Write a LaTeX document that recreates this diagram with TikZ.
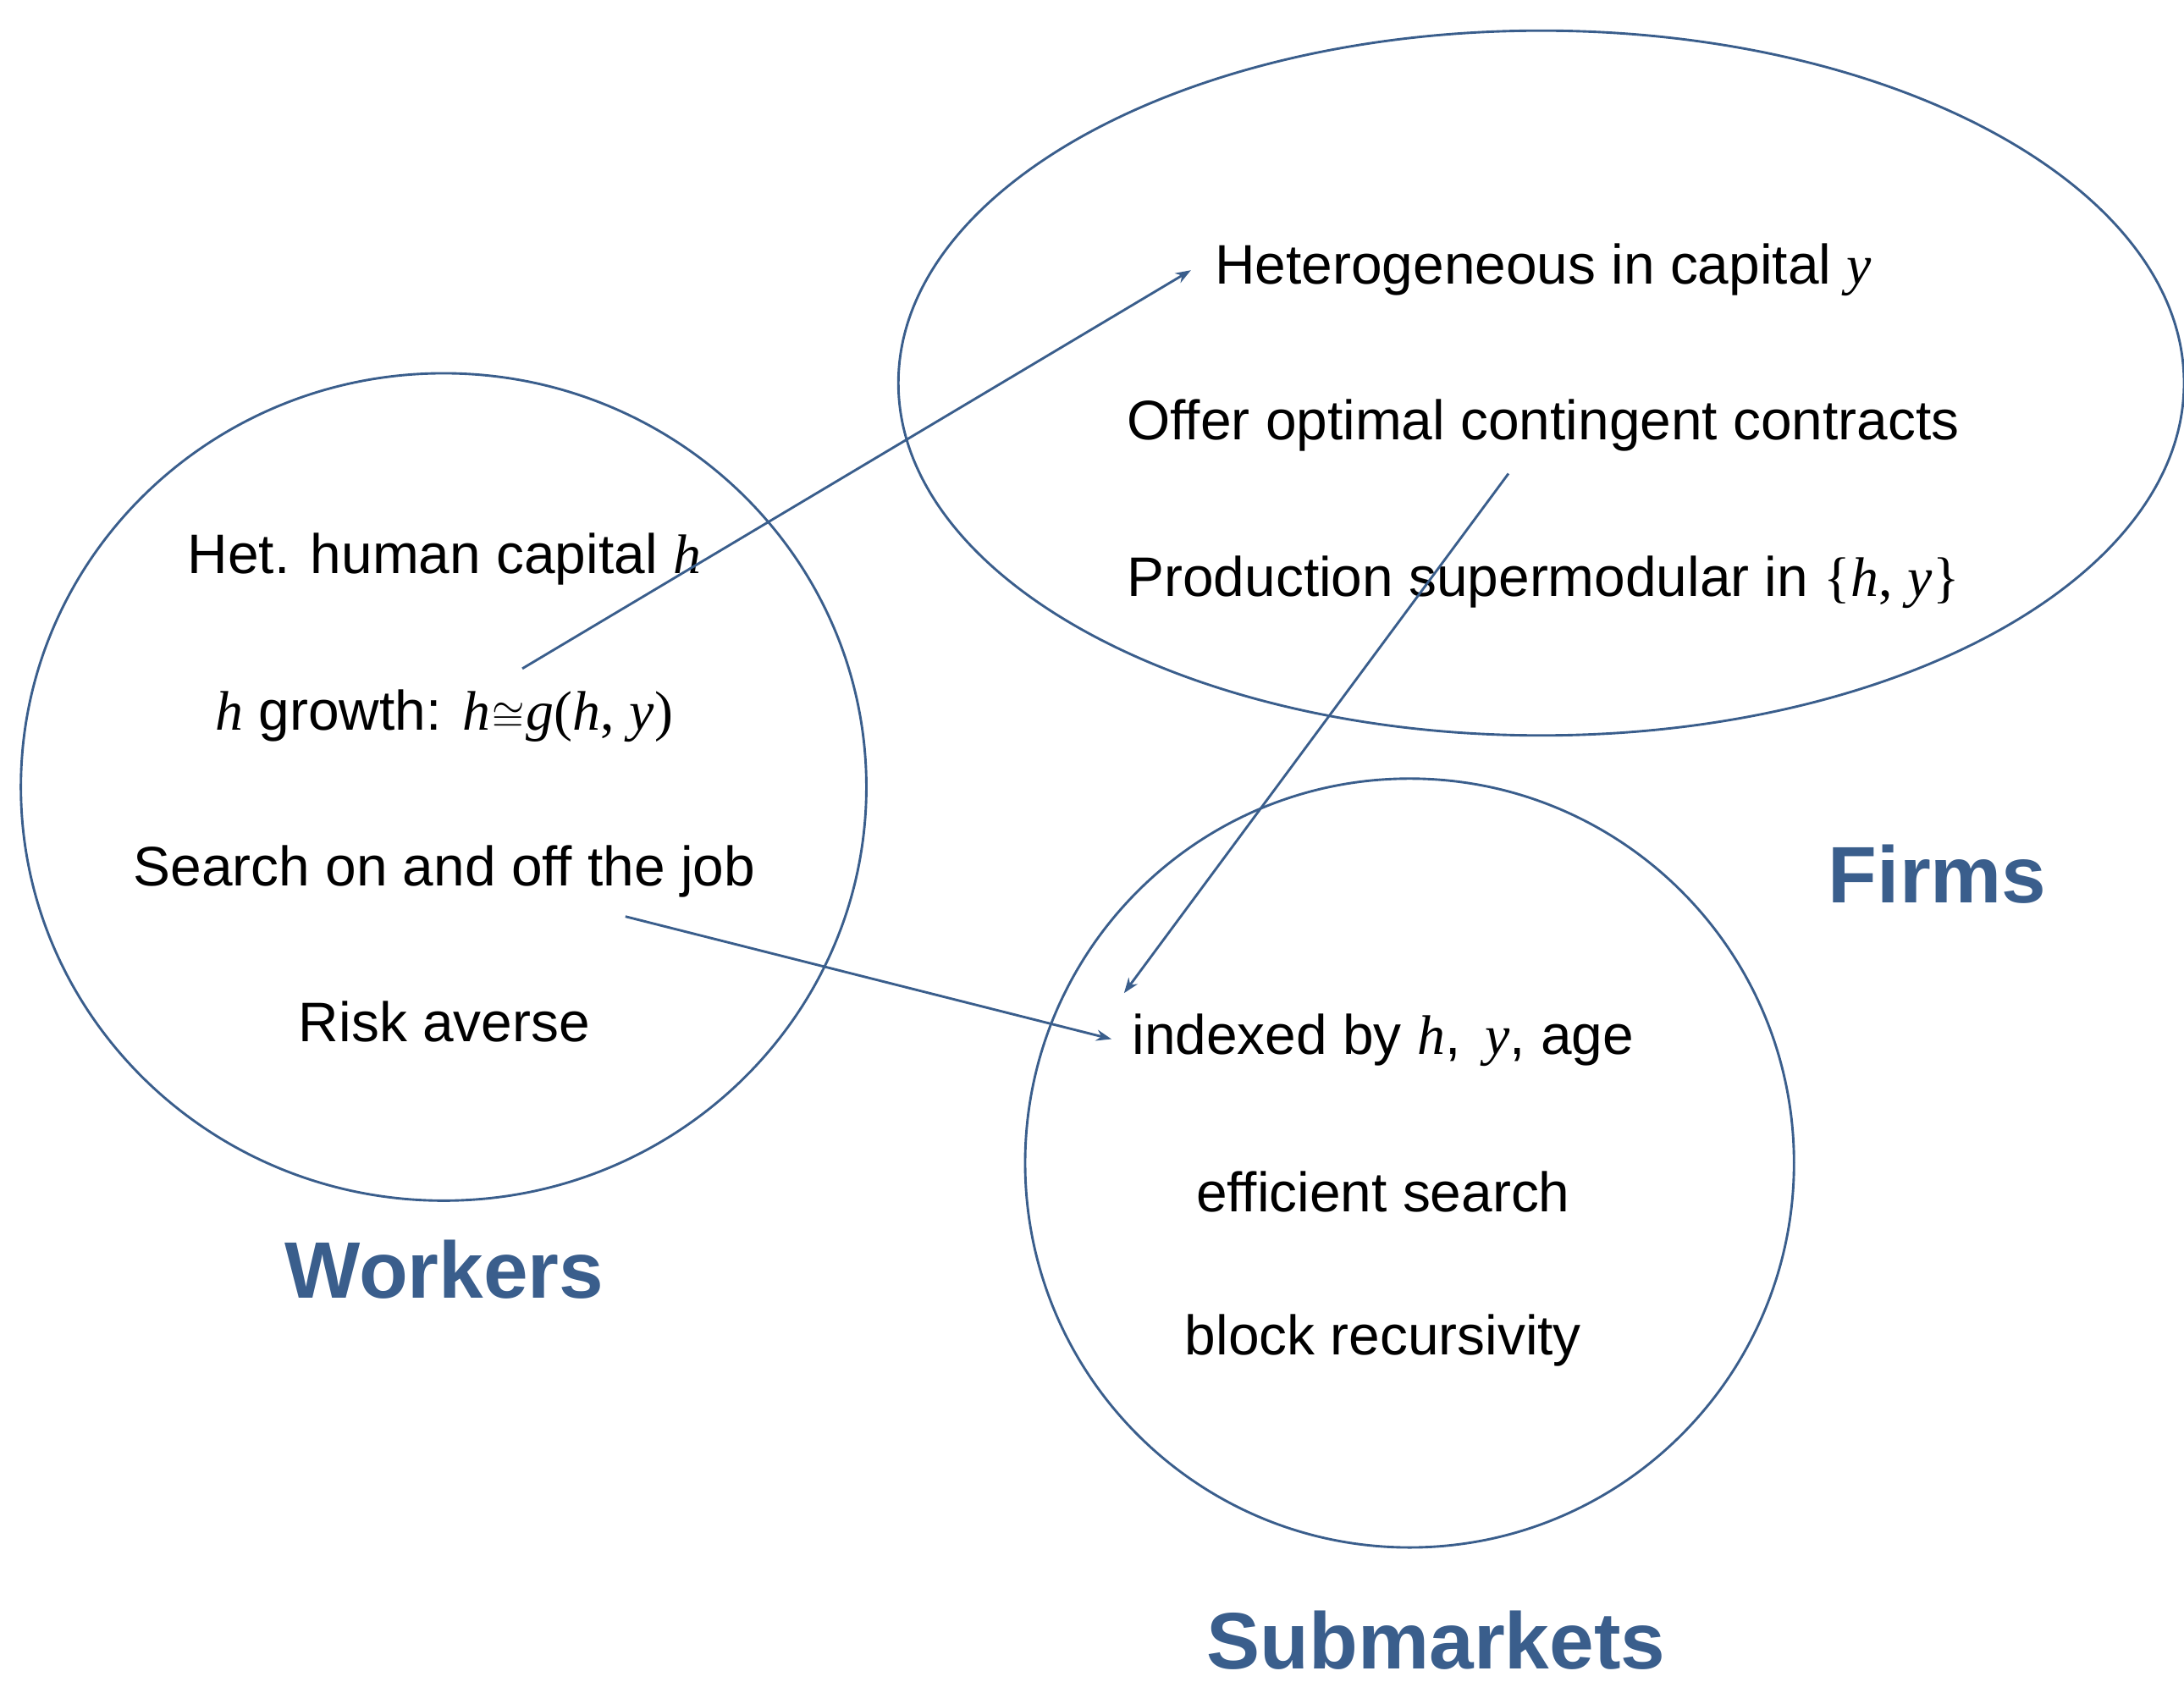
\documentclass[tikz,border=0pt]{standalone}
\usepackage{fontspec}
\setmainfont{Liberation Sans}
\newfontfamily\srf{Liberation Serif}
\usetikzlibrary{shapes.geometric,arrows.meta}
\definecolor{diagblue}{RGB}{58,94,140}
\newcommand\mv[1]{{\srf\itshape #1}}
\newcommand\mup[1]{{\srf #1}}
\tikzset{
  bubble/.style={draw=diagblue, line width=0.7pt, ellipse, inner sep=0pt},
  item/.style={anchor=base, inner sep=0pt, font=\fontsize{16}{19}\selectfont},
  heading/.style={anchor=base, inner sep=0pt, text=diagblue, font=\fontsize{23}{27}\selectfont\bfseries},
  link/.style={draw=diagblue, line width=0.7pt, -{Stealth[length=4.4pt,width=3.2pt]}}
}
\begin{document}
\begin{tikzpicture}[x=0.4pt,y=-0.4pt]
\useasboundingbox (0,0) rectangle (1568,1207);
% bubbles
\node[bubble, minimum width=242.8pt, minimum height=237.6pt] (workers) at (318.5,565) {};
\node[bubble, minimum width=369.2pt, minimum height=202.4pt] (firms) at (1106.5,275) {};
\node[bubble, minimum width=220.8pt, minimum height=220.8pt] (subm) at (1012,835) {};
% worker texts
\node[item] (w1) at (319,412) {Het. human capital \mv{h}};
\node[item] (w2) at (319,524) {\mv{h} growth: \mv{h}\kern0.5pt{\fontsize{12.5}{13}\selectfont$\cong$}\kern0.5pt\mv{g}\mup{(}\mv{h}\mup{,} \mv{y}\mup{)}};
\node[item] (w3) at (319,636) {Search on and off the job};
\node[item] (w4) at (319,748) {Risk averse};
\node[heading] (wh) at (319,932) {Workers};
% firm texts
\node[item] (f1) at (1108,204) {Heterogeneous in capital \mv{y}};
\node[item] (f2) at (1108,316) {Offer optimal contingent contracts};
\node[item] (f3) at (1108,428) {Production supermodular in \mup{\{}\mv{h}\mup{,} \mv{y}\mup{\}}};
\node[heading] (fh) at (1391,648) {Firms};
% submarket texts
\node[item] (s1) at (993,757) {indexed by \mv{h},\, \mv{y}, age};
\node[item] (s2) at (993,870) {efficient search};
\node[item] (s3) at (993,973) {block recursivity};
\node[heading] (sh) at (1031,1198) {Submarkets};
% connector ends
\coordinate (a1s) at (375,480);
\coordinate (a1e) at (855,194);
\coordinate (a2s) at (1083,340);
\coordinate (a2e) at (807,713);
\coordinate (a3s) at (449,658);
\coordinate (a3e) at (798,746);
\draw[link] (a1s) -- (a1e);
\draw[link] (a2s) -- (a2e);
\draw[link] (a3s) -- (a3e);
\end{tikzpicture}
\end{document}
